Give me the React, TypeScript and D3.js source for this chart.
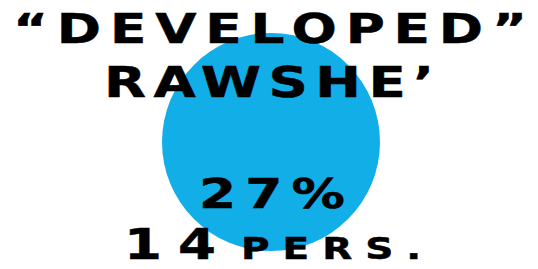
import React from "react";
import * as d3 from "d3";

const titleLines = ["“DEVELOPED”", "RAWSHE’"];
const percentValues = [27];
const personCounts = [14];
const unitLabels = ["PERS."];

const SX = 1.3;

function Stretched({ x, y, len, size, children }: { x: number; y: number; len: number; size: number; children: React.ReactNode }) {
  return (
    <text
      transform={`translate(${x},${y}) scale(${SX},1)`}
      fontSize={size}
      textLength={len / SX}
      lengthAdjust="spacing"
      stroke="#000"
      strokeWidth={0.5}
    >
      {children}
    </text>
  );
}

export default function App() {
  const W = 538;
  const H = 269;
  const radius = d3.scaleSqrt().domain([0, 27]).range([0, 109]);
  const pct = d3.format(".0%");
  const font = "'DejaVu Sans', sans-serif";
  return (
    <svg
      width={W}
      height={H}
      style={{ position: "absolute", left: 0, top: 0, background: "#ffffff" }}
      fontFamily={font}
      fontWeight="bold"
      fill="#000"
    >
      <circle cx={271} cy={142} r={radius(percentValues[0])} fill="#12aee8" />
      <Stretched x={13} y={43} len={514} size={41}>{titleLines[0]}</Stretched>
      <Stretched x={104} y={97} len={330} size={42}>{titleLines[1]}</Stretched>
      <Stretched x={199} y={208} len={146} size={41}>{pct(percentValues[0] / 100)}</Stretched>
      <Stretched x={124} y={259} len={92} size={42}>{String(personCounts[0])}</Stretched>
      <Stretched x={241} y={259} len={180} size={30}>{unitLabels[0]}</Stretched>
    </svg>
  );
}
